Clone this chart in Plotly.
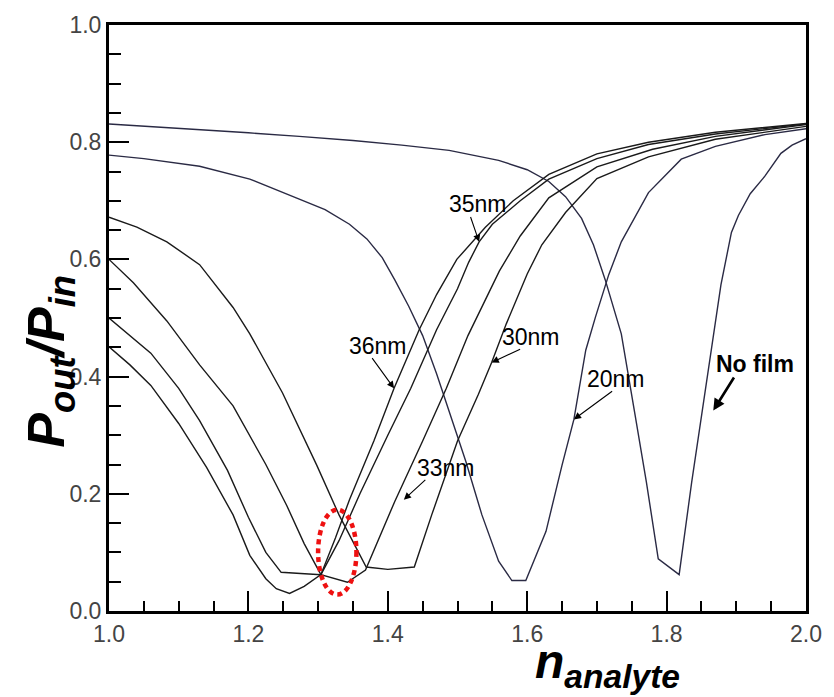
import plotly.graph_objects as go

# ---------------- data (n_analyte, Pout/Pin) ----------------
nofilm_n = [1.00, 1.10, 1.20, 1.273, 1.35, 1.42, 1.488, 1.559, 1.60, 1.631, 1.655, 1.678, 1.695, 1.712,
            1.735, 1.755, 1.771, 1.788, 1.818, 1.836, 1.85, 1.864, 1.878, 1.893, 1.903, 1.92, 1.941,
            1.964, 1.98, 2.00]
nofilm_p = [0.831, 0.824, 0.816, 0.810, 0.803, 0.795, 0.786, 0.769, 0.753, 0.733, 0.707, 0.670, 0.625,
            0.565, 0.473, 0.333, 0.220, 0.089, 0.062, 0.220, 0.333, 0.445, 0.557, 0.646, 0.675, 0.712,
            0.742, 0.781, 0.795, 0.806]

nm20_n = [1.00, 1.05, 1.13, 1.202, 1.273, 1.31, 1.345, 1.37, 1.392, 1.41, 1.43, 1.45, 1.47, 1.488,
          1.512, 1.535, 1.559, 1.578, 1.598, 1.627, 1.65, 1.667, 1.684, 1.698, 1.717, 1.735, 1.774,
          1.821, 1.87, 1.941, 2.00]
nm20_p = [0.778, 0.772, 0.759, 0.737, 0.703, 0.685, 0.660, 0.635, 0.603, 0.565, 0.520, 0.470, 0.405,
          0.340, 0.255, 0.164, 0.085, 0.052, 0.052, 0.136, 0.249, 0.327, 0.445, 0.502, 0.574, 0.630,
          0.714, 0.771, 0.793, 0.813, 0.823]

nm30_n = [1.00, 1.04, 1.083, 1.13, 1.178, 1.202, 1.249, 1.298, 1.330, 1.369, 1.40, 1.438, 1.463, 1.50,
          1.53, 1.549, 1.57, 1.60, 1.621, 1.655, 1.70, 1.774, 1.87, 2.00]
nm30_p = [0.672, 0.655, 0.630, 0.591, 0.518, 0.473, 0.372, 0.249, 0.164, 0.075, 0.071, 0.075, 0.164,
          0.290, 0.370, 0.424, 0.490, 0.575, 0.625, 0.680, 0.738, 0.775, 0.805, 0.827]

nm33_n = [1.00, 1.035, 1.083, 1.13, 1.178, 1.225, 1.255, 1.28, 1.304, 1.342, 1.368, 1.41, 1.45, 1.484,
          1.515, 1.56, 1.59, 1.631, 1.70, 1.78, 1.87, 2.00]
nm33_p = [0.600, 0.560, 0.495, 0.420, 0.350, 0.250, 0.180, 0.115, 0.062, 0.049, 0.070, 0.187, 0.290,
          0.380, 0.470, 0.580, 0.640, 0.705, 0.758, 0.788, 0.810, 0.830]

nm35_n = [1.00, 1.03, 1.06, 1.10, 1.13, 1.17, 1.20, 1.225, 1.247, 1.275, 1.304, 1.33, 1.36, 1.40, 1.433,
          1.47, 1.50, 1.516, 1.531, 1.55, 1.59, 1.631, 1.70, 1.774, 1.87, 2.00]
nm35_p = [0.500, 0.470, 0.440, 0.380, 0.325, 0.240, 0.160, 0.100, 0.066, 0.064, 0.062, 0.120, 0.200,
          0.300, 0.380, 0.480, 0.550, 0.595, 0.630, 0.660, 0.700, 0.737, 0.772, 0.796, 0.814, 0.831]

nm36_n = [1.00, 1.03, 1.06, 1.10, 1.14, 1.178, 1.202, 1.225, 1.24, 1.259, 1.28, 1.304, 1.325, 1.345,
          1.38, 1.409, 1.445, 1.47, 1.499, 1.54, 1.58, 1.631, 1.70, 1.774, 1.87, 2.00]
nm36_p = [0.451, 0.420, 0.385, 0.320, 0.245, 0.164, 0.095, 0.055, 0.038, 0.030, 0.042, 0.062, 0.125,
          0.190, 0.290, 0.380, 0.480, 0.540, 0.600, 0.655, 0.700, 0.745, 0.780, 0.800, 0.817, 0.832]

series = [
    ("No film", nofilm_n, nofilm_p, "#2a2a44"),
    ("20nm", nm20_n, nm20_p, "#2a2a44"),
    ("30nm", nm30_n, nm30_p, "#1a1a1a"),
    ("33nm", nm33_n, nm33_p, "#1a1a1a"),
    ("35nm", nm35_n, nm35_p, "#1a1a1a"),
    ("36nm", nm36_n, nm36_p, "#1a1a1a"),
]

x_ticks = [1.0, 1.2, 1.4, 1.6, 1.8, 2.0]
x_ticktext = ["1.0", "1.2", "1.4", "1.6", "1.8", "2.0"]
y_ticks = [0.0, 0.2, 0.4, 0.6, 0.8, 1.0]
y_ticktext = ["0.0", "0.2", "0.4", "0.6", "0.8", "1.0"]

# label text position, arrow tail, arrow tip (data coordinates)
labels = [
    ("35nm", (1.529, 0.695), (1.518, 0.675), (1.531, 0.630), False),
    ("36nm", (1.386, 0.453), (1.376, 0.434), (1.409, 0.380), False),
    ("33nm", (1.484, 0.244), (1.456, 0.226), (1.423, 0.190), False),
    ("30nm", (1.605, 0.467), (1.592, 0.448), (1.549, 0.424), False),
    ("20nm", (1.727, 0.396), (1.724, 0.377), (1.667, 0.327), False),
    ("No film", (1.927, 0.421), (1.898, 0.401), (1.867, 0.342), True),
]

fig = go.Figure()
for name, xs, ys, col in series:
    fig.add_trace(go.Scatter(x=xs, y=ys, mode="lines", name=name,
                             line=dict(color=col, width=1.4), showlegend=False))

font_fam = "Arial, Liberation Sans, sans-serif"
for txt, tpos, tail, tip, bold in labels:
    fig.add_annotation(x=tpos[0], y=tpos[1], xref="x", yref="y", showarrow=False,
                       text=("<b>%s</b>" % txt) if bold else txt,
                       font=dict(family=font_fam, size=23, color="black"))
    fig.add_annotation(x=tip[0], y=tip[1], ax=tail[0], ay=tail[1], xref="x", yref="y",
                       axref="x", ayref="y", text="", showarrow=True, arrowhead=2,
                       arrowsize=1.3 if not bold else 0.9, arrowwidth=2.6 if bold else 1.1,
                       arrowcolor="black")

# red dotted ellipse
fig.add_shape(type="circle", xref="x", yref="y", x0=1.300, x1=1.355, y0=0.028, y1=0.173,
              line=dict(color="#ee1111", width=4.5, dash="5px,4px"))

# axis titles
fig.add_annotation(x=-0.135, y=0.427, xref="paper", yref="paper", showarrow=False, textangle=-90,
                   text="<b><i>P<sub>out</sub>/P<sub>in</sub></i></b>",
                   font=dict(family=font_fam, size=52, color="black"))
fig.add_annotation(x=0.609, y=-0.146, xref="paper", yref="paper", showarrow=False,
                   xanchor="left",
                   text="<b><i>n<sub>analyte</sub></i></b>",
                   font=dict(family=font_fam, size=48, color="black"))

axis_common = dict(showline=True, linewidth=3, linecolor="black", mirror=True, showgrid=False,
                   zeroline=False, ticks="inside", ticklen=20, tickwidth=2, tickcolor="black",
                   tickfont=dict(family=font_fam, size=23, color="#444444"))

fig.update_xaxes(range=[1.0, 2.0], tickvals=x_ticks, ticktext=x_ticktext,
                 minor=dict(ticks="inside", ticklen=10, tickwidth=2, tickcolor="black",
                            dtick=0.05, tick0=1.0, showgrid=False),
                 **axis_common)
fig.update_yaxes(range=[0.0, 1.0], tickvals=y_ticks, ticktext=y_ticktext,
                 minor=dict(ticks="inside", ticklen=12, tickwidth=2, tickcolor="black",
                            dtick=0.05, tick0=0.0, showgrid=False),
                 **axis_common)

fig.update_layout(width=834, height=697, margin=dict(l=109, r=26, t=17, b=86),
                  plot_bgcolor="white", paper_bgcolor="white")

fig.write_html("out.html")
